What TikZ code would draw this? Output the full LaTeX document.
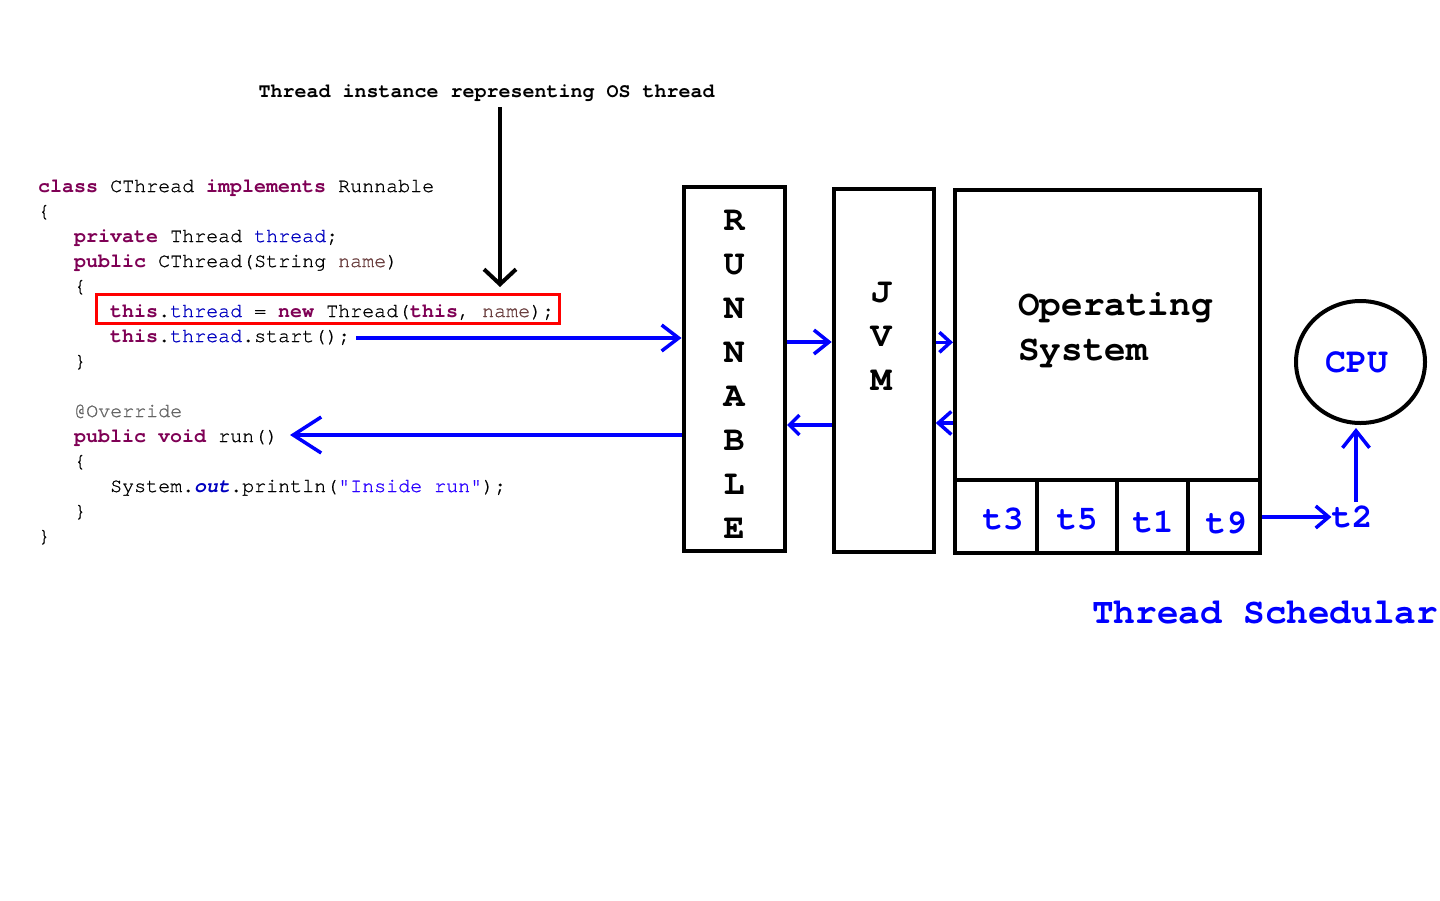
\documentclass[tikz,border=0pt]{standalone}
\usepackage{fontspec}
\setmonofont{TeX Gyre Cursor}
\newfontfamily\coderegular{TeX Gyre Cursor}[FakeBold=0.9]
\usetikzlibrary{arrows.meta,shapes.geometric}
\definecolor{jkwc}{HTML}{7F0055}
\definecolor{jfldc}{HTML}{0000C0}
\definecolor{jparc}{HTML}{6A3E3E}
\definecolor{jannc}{HTML}{646464}
\definecolor{jstrc}{HTML}{2A00FF}
\definecolor{arrblue}{HTML}{0000FF}
\definecolor{boxred}{HTML}{FF0000}
\newcommand\jkw[1]{\textcolor{jkwc}{\ttfamily\bfseries #1}}
\newcommand\jfld[1]{\textcolor{jfldc}{#1}}
\newcommand\jpar[1]{\textcolor{jparc}{#1}}
\newcommand\jann[1]{\textcolor{jannc}{#1}}
\newcommand\jstr[1]{\textcolor{jstrc}{#1}}
\begin{document}
\begin{tikzpicture}[x=1pt,y=-1pt,
  code/.style={anchor=base west,inner sep=0pt,font=\fontsize{20}{25}\selectfont\coderegular},
  bigtxt/.style={inner sep=0pt,font=\fontsize{35}{44}\selectfont\ttfamily\bfseries},
  oslabel/.style={inner sep=0pt,anchor=base west,font=\fontsize{36}{45}\selectfont\ttfamily\bfseries},
  tlabel/.style={inner sep=0pt,text=arrblue,font=\fontsize{34}{40}\selectfont\ttfamily\bfseries},
  boxstyle/.style={draw,line width=4pt,rectangle,inner sep=0pt},
  cellstyle/.style={draw,line width=4pt,rectangle,inner sep=0pt,minimum height=73pt},
  blarrow/.style={draw=arrblue,line width=3.5pt},
]
\fill[white] (0,0) rectangle (1440,900);
\useasboundingbox (0,0) rectangle (1440,900);

% top label and black arrow
\node[inner sep=0pt,anchor=base,font=\fontsize{20}{25}\selectfont\ttfamily\bfseries] (lab) at (486.5,97) {Thread instance representing OS thread};
\coordinate (btip) at (500,287);
\draw[line width=4pt,-{Straight Barb[length=15pt,width=32pt]},shorten <=6pt] (lab.south -| btip) -- (btip);

% code
\node[code] (c1) at (38,192) {\jkw{class} CThread \jkw{implements} Runnable};
\node[code] (c2) at (38,217) {\{};
\node[code] (c3) at (74,242) {\jkw{private} Thread \jfld{thread};};
\node[code] (c4) at (74,267) {\jkw{public} CThread(String \jpar{name})};
\node[code] (c5) at (74,292) {\{};
\node[code] (c6) at (110,317) {\jkw{this}.\jfld{thread} = \jkw{new} Thread(\jkw{this}, \jpar{name});};
\node[code] (c7) at (110,342) {\jkw{this}.\jfld{thread}.start();};
\node[code] (c8) at (74,367) {\}};
\node[code] (c9) at (74,417) {\jann{@Override}};
\node[code] (c10) at (74,442) {\jkw{public} \jkw{void} run()};
\node[code] (c11) at (74,467) {\{};
\node[code] (c12) at (110,492) {System.\textcolor{jfldc}{\ttfamily\bfseries\itshape out}.println(\jstr{"Inside run"});};
\node[code] (c13) at (74,517) {\}};
\node[code] (c14) at (38,542) {\}};

% red box
\node[draw=boxred,line width=3pt,inner sep=0pt,minimum width=463pt,minimum height=29pt] (redbox) at (328,309) {};

% RUNNABLE
\node[boxstyle,minimum width=101.5pt,minimum height=364pt] (runnable) at (734.25,369) {};
\node[bigtxt,align=center] (rtext) at (734,374) {R\\U\\N\\N\\A\\B\\L\\E};

% JVM
\node[boxstyle,minimum width=100pt,minimum height=362.7pt] (jvm) at (883.7,370.7) {};
\node[bigtxt,align=center] (jtext) at (881,336) {J\\V\\M};

% Operating system
\node[boxstyle,minimum width=305pt,minimum height=290pt] (os) at (1107.5,335) {};
\node[oslabel] (os1) at (1018,315) {Operating};
\node[oslabel] (os2) at (1018,360) {System};

% thread cells
\node[cellstyle,minimum width=81.7pt] (cell3) at (995.85,516.5) {};
\node[cellstyle,minimum width=80pt] (cell5) at (1076.7,516.5) {};
\node[cellstyle,minimum width=71.3pt] (cell1) at (1152.35,516.5) {};
\node[cellstyle,minimum width=72pt] (cell9) at (1224,516.5) {};
\node[tlabel] (t3) at (1003,518.5) {t3};
\node[tlabel] (t5) at (1077,519) {t5};
\node[tlabel] (t1) at (1153,521.5) {t1};
\node[tlabel] (t9) at (1226,523) {t9};
\node[tlabel] (t2) at (1352,517) {t2};

% CPU
\node[draw,ellipse,line width=4pt,inner sep=0pt,minimum width=129pt,minimum height=122pt,text=arrblue,font=\fontsize{35}{40}\selectfont\ttfamily\bfseries] (cpu) at (1360.5,362) {\raisebox{-2.5pt}{\hspace*{-8pt}CPU}};

% scheduler label
\node[inner sep=0pt,anchor=base,text=arrblue,font=\fontsize{36}{45}\selectfont\ttfamily\bfseries] (sched) at (1265,623) {Thread Schedular};

% blue connectors
\coordinate (st) at (356,338);
\coordinate (rn) at (290,435);
\coordinate (ya) at (0,342);
\coordinate (yb) at (0,425);
\coordinate (yc) at (0,342.3);
\coordinate (yd) at (0,423);
\draw[blarrow,-{Straight Barb[length=17pt,width=26pt]}] (st) -- (st -| runnable.west);
\draw[blarrow,-{Straight Barb[length=28pt,width=36pt]}] (rn -| runnable.west) -- (rn);
\draw[blarrow,-{Straight Barb[length=15pt,width=24pt]}] (runnable.east |- ya) -- (jvm.west |- ya);
\draw[blarrow,-{Straight Barb[length=10pt,width=20pt]}] (jvm.west |- yb) -- (runnable.east |- yb);
\draw[blarrow,-{Straight Barb[length=11pt,width=20pt]}] (jvm.east |- yc) -- (os.west |- yc);
\draw[blarrow,-{Straight Barb[length=13pt,width=23pt]}] (os.west |- yd) -- (jvm.east |- yd);
\draw[blarrow,-{Straight Barb[length=13pt,width=22pt]}] (cell9.east |- t2) -- (t2.west);
\draw[blarrow,-{Straight Barb[length=17pt,width=27pt]},shorten <=4pt,shorten >=3pt] ([xshift=4pt]t2.north) -- ([xshift=4pt]t2.north |- cpu.south);
\end{tikzpicture}
\end{document}
